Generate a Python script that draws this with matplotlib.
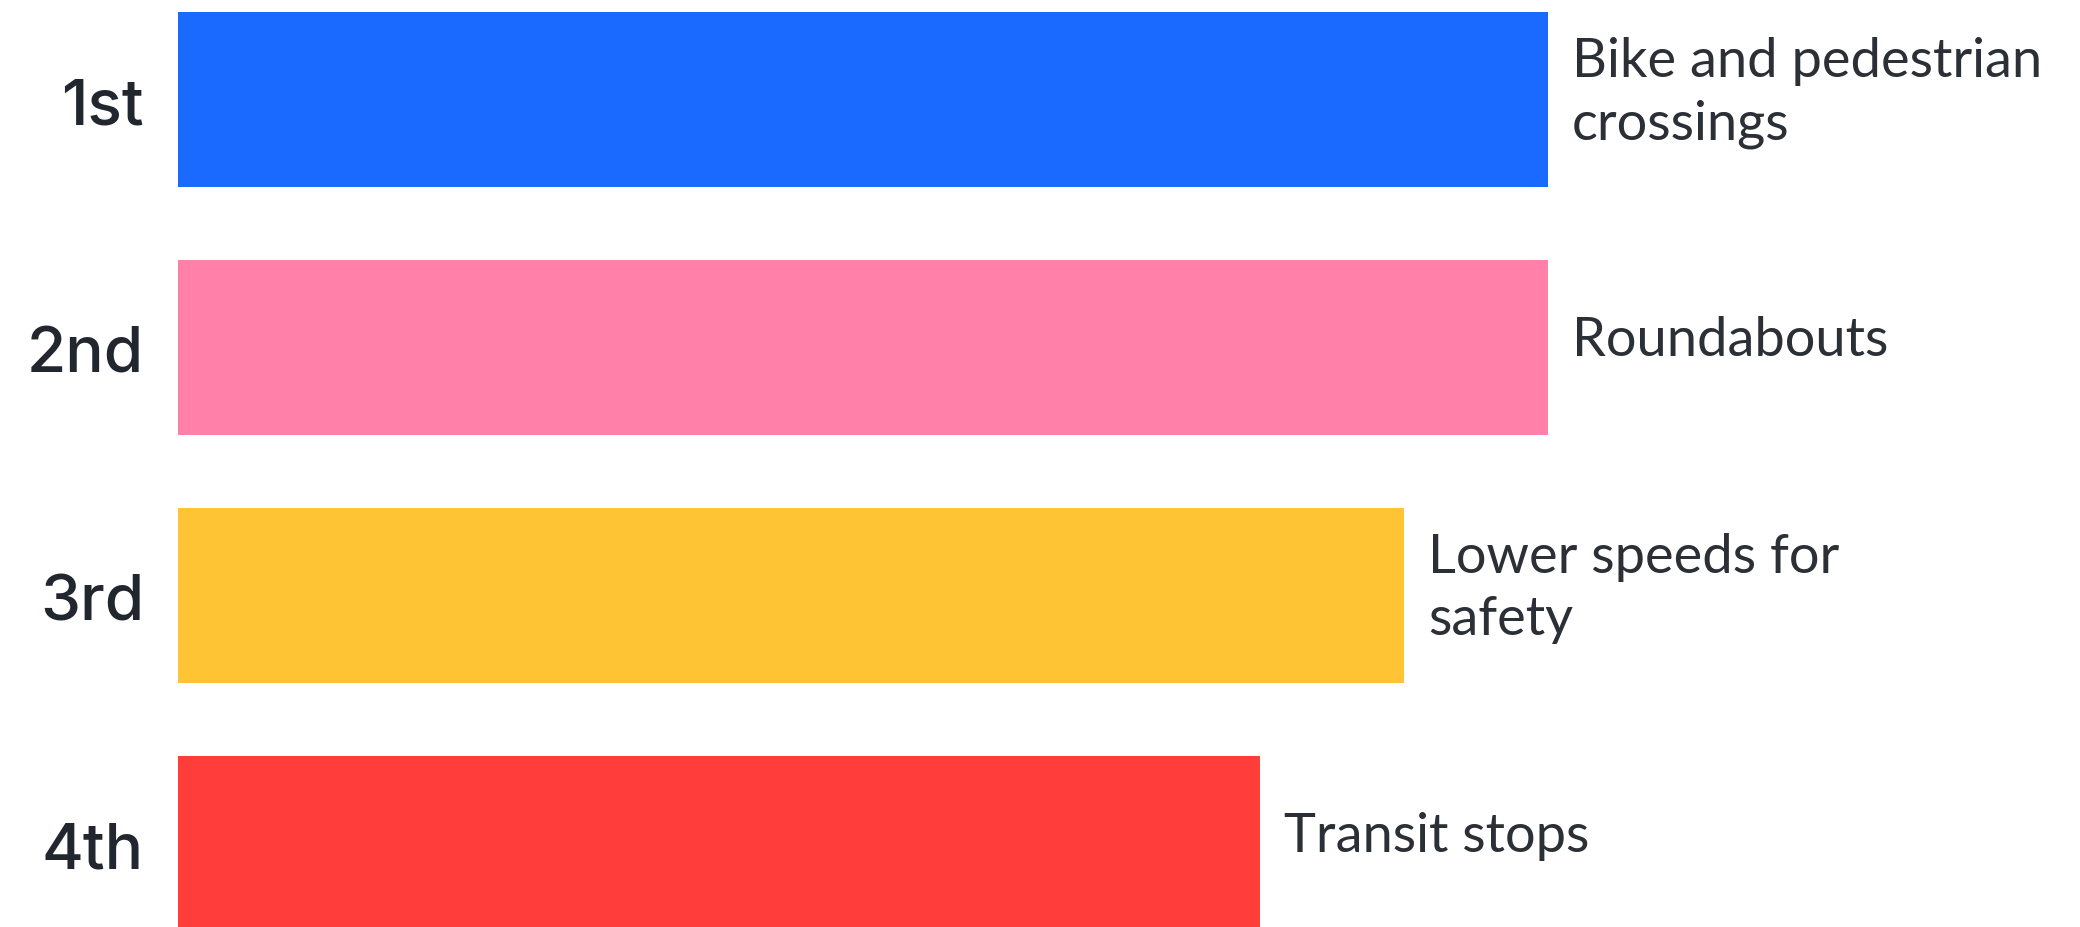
import matplotlib.pyplot as plt

ranks = ['1st', '2nd', '3rd', '4th']
labels = ['Bike and pedestrian\ncrossings', 'Roundabouts',
          'Lower speeds for\nsafety', 'Transit stops']
values = [19, 19, 17, 15]
colors = ['#1b6aff', '#ff80a8', '#fec434', '#ff3e3c']

dpi = 100
fig = plt.figure(figsize=(20.8, 9.28), dpi=dpi)
ax = fig.add_axes([0, 0, 1, 1])

pitch = 248  # px between bar centres
px = 1370 / values[0]  # px per unit
y = list(range(len(ranks)))

ax.barh(y, values, height=175 / pitch, color=colors)

ax.set_xlim(-178 / px, (2080 - 178) / px)
ax.set_ylim((928 - 100.5) / pitch, -100.5 / pitch)
ax.axis('off')

for i in y:
    # rank on the left, caps centred on the bar
    ax.annotate(ranks[i], xy=(0, i), xytext=(-34, -24),
                textcoords='offset pixels', ha='right', va='baseline',
                fontsize=46, fontweight='medium', family='Inter',
                color='#22262e')
    lines = labels[i].split('\n')
    n = len(lines)
    for k, line in enumerate(lines):
        off = 8 + (k - (n - 1) / 2) * 62
        ax.annotate(line, xy=(values[i], i), xytext=(24, -off),
                    textcoords='offset pixels', ha='left', va='baseline',
                    fontsize=39, family='Lato', color='#2b2f36')

fig.savefig('out.png', dpi=dpi)
